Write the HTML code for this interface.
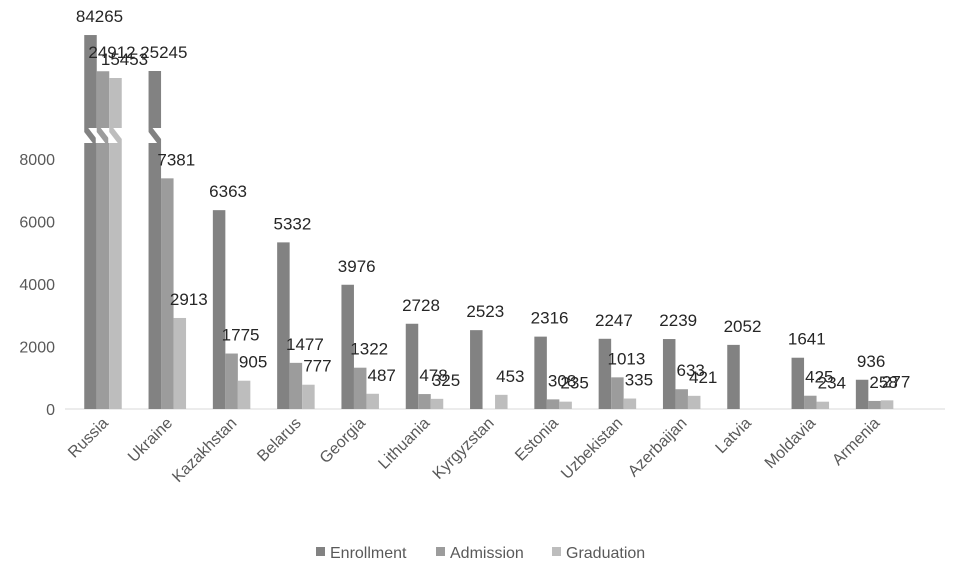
<!DOCTYPE html>
<html><head><meta charset="utf-8"><style>
body{margin:0;background:#fff;font-family:"Liberation Sans",sans-serif}
svg text{font-family:"Liberation Sans",sans-serif}
</style></head><body>
<svg id="c" width="961" height="569" xmlns="http://www.w3.org/2000/svg"></svg>
<script>
const categories=["Russia","Ukraine","Kazakhstan","Belarus","Georgia","Lithuania","Kyrgyzstan","Estonia","Uzbekistan","Azerbaijan","Latvia","Moldavia","Armenia"];
const enrollment=[84265,25245,6363,5332,3976,2728,2523,2316,2247,2239,2052,1641,936];
const admission=[24912,7381,1775,1477,1322,478,null,308,1013,633,null,425,258];
const graduation=[15453,2913,905,777,487,325,453,235,335,421,null,234,277];
const yTicks=[0,2000,4000,6000,8000];
const seriesNames=["Enrollment","Admission","Graduation"];
const colors=["#828282","#9c9c9c","#bdbdbd"];
const svg=document.getElementById('c');
const NS="http://www.w3.org/2000/svg";
function mk(t,a,p){const e=document.createElementNS(NS,t);for(const k in a)e.setAttribute(k,a[k]);(p||svg).appendChild(e);return e;}
const y0=409, pxPer=250/8000, cap=8500, breakTop=128, breakBot=143;
function y(v){
  if(v<=cap) return y0-v*pxPer;
  if(v<=25245) return 78-(v-15453)/(25245-15453)*7;
  return 71-(Math.log10(v)-Math.log10(25245))*68.7;
}
function gx(i){return 103+i*64.3;}
const bw=12.5;
const ax=mk('line',{x1:65,x2:945,y1:y0,y2:y0,stroke:'#d9d9d9','stroke-width':1});

yTicks.forEach(t=>{const e=mk('text',{x:55,y:y(t)+6,'text-anchor':'end','font-size':16,fill:'#595959'});e.textContent=t;
});
const series=[enrollment,admission,graduation];
series.forEach((arr,s)=>{
  arr.forEach((v,i)=>{
    if(v==null) return;
    const x=gx(i)-bw*1.5+s*bw, top=y(v);
    const r=mk('rect',{x:x,y:top,width:bw,height:y0-top,fill:colors[s]});
    
    
    if(v>cap){
      const b=mk('rect',{x:x-1,y:breakTop,width:bw+2,height:breakBot-breakTop,fill:'#fff'});
      
      const p=mk('polygon',{points:`${x},${breakTop} ${x+4},${breakTop} ${x+bw},${breakBot-4} ${x+bw},${breakBot} ${x+bw-4},${breakBot} ${x},${breakTop+4}`,fill:colors[s]});
      
    }
    const t=mk('text',{x:x+bw/2+9,y:top-13,'text-anchor':'middle','font-size':17,fill:'#262626'});
    t.textContent=v;
    
  });
});
categories.forEach((c,i)=>{
  const t=mk('text',{x:gx(i)+6,y:424,'text-anchor':'end','font-size':16,fill:'#595959',transform:`rotate(-45 ${gx(i)+6} 424)`});
  t.textContent=c;
  
});
const lx=[316,436,552];
seriesNames.forEach((n,s)=>{
  const g=mk('g',{});
  
  mk('rect',{x:lx[s],y:547,width:9,height:9,fill:colors[s]},g);
  const t=mk('text',{x:lx[s]+14,y:558,'font-size':16,fill:'#595959'},g);t.textContent=n;
});
</script>
</body></html>
